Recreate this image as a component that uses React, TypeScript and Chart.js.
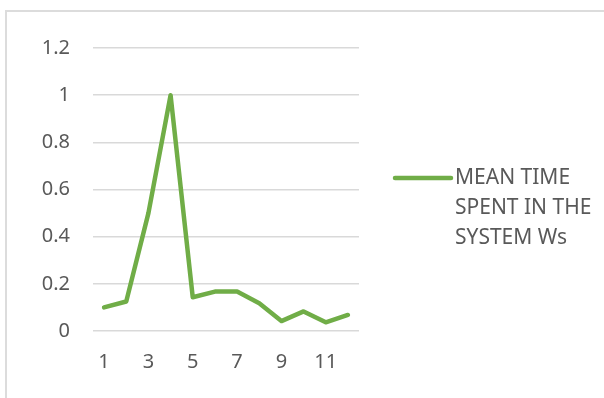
import React, { useEffect, useRef } from "react";
import { Chart, registerables } from "chart.js";

Chart.register(...registerables);

const categories = ["1", "2", "3", "4", "5", "6", "7", "8", "9", "10", "11", "12"];
const meanTimeWs = [0.1, 0.125, 0.5, 1.0, 0.143, 0.167, 0.167, 0.118, 0.042, 0.083, 0.037, 0.068];
const seriesLabel = ["MEAN TIME", "SPENT IN THE", "SYSTEM Ws"];

const FONT = "'Noto Sans', 'Open Sans', sans-serif";
const TEXT = "#595959";
const LINE = "#70ad47";

const legendPlugin = {
  id: "sideLegend",
  afterDraw(chart: any) {
    const ctx = chart.ctx;
    const ds = chart.data.datasets[0];
    const x0 = chart.chartArea.right + 36;
    const y0 = 178;
    ctx.save();
    ctx.strokeStyle = ds.borderColor;
    ctx.lineWidth = 4.5;
    ctx.lineCap = "round";
    ctx.beginPath();
    ctx.moveTo(x0, y0);
    ctx.lineTo(x0 + 56, y0);
    ctx.stroke();
    ctx.fillStyle = TEXT;
    ctx.font = `21px ${FONT}`;
    ctx.textBaseline = "middle";
    ctx.textAlign = "left";
    const lines: string[] = ds.label;
    lines.forEach((t, i) => ctx.fillText(t, x0 + 60, y0 + i * 30));
    ctx.restore();
  },
};

export default function App() {
  const ref = useRef<HTMLCanvasElement | null>(null);
  useEffect(() => {
    if (!ref.current) return;
    const chart = new Chart(ref.current, {
      type: "line",
      data: {
        labels: categories,
        datasets: [
          {
            label: seriesLabel as any,
            data: meanTimeWs,
            borderColor: LINE,
            backgroundColor: LINE,
            borderWidth: 4.5,
            pointRadius: 0,
            tension: 0,
            borderCapStyle: "round",
            borderJoinStyle: "round",
          },
        ],
      },
      options: {
        responsive: false,
        animation: false,
        layout: { padding: { top: 48, right: 245, left: 0, bottom: 0 } },
        plugins: { legend: { display: false }, tooltip: { enabled: false } },
        scales: {
          x: {
            offset: true,
            grid: { display: false, drawTicks: false },
            border: { display: false },
            ticks: {
              autoSkip: false,
              maxRotation: 0,
              padding: 19,
              color: TEXT,
              font: { family: FONT, size: 20 },
              callback: (_v: any, i: number) => (i % 2 === 0 ? categories[i] : ""),
            },
            afterFit: (s: any) => {
              s.height = 67;
            },
          },
          y: {
            min: 0,
            max: 1.2,
            ticks: {
              stepSize: 0.2,
              padding: 23,
              color: TEXT,
              font: { family: FONT, size: 20 },
              callback: (v: any) => String(Math.round(Number(v) * 10) / 10),
            },
            grid: { color: "#d9d9d9", lineWidth: 1.5, drawTicks: false },
            border: { display: false },
            afterFit: (s: any) => {
              s.width = 93;
            },
          },
        },
      },
      plugins: [legendPlugin],
    });
    return () => chart.destroy();
  }, []);

  return (
    <div
      style={{
        position: "fixed",
        left: 0,
        top: 0,
        width: 604,
        height: 398,
        background: "#fff",
        overflow: "hidden",
      }}
    >
      <div
        style={{
          position: "absolute",
          left: 5,
          top: 10,
          width: 800,
          height: 600,
          border: "2px solid #dcdcdc",
          boxSizing: "border-box",
        }}
      />
      <canvas ref={ref} width={604} height={398} style={{ position: "absolute", left: 0, top: 0 }} />
    </div>
  );
}
